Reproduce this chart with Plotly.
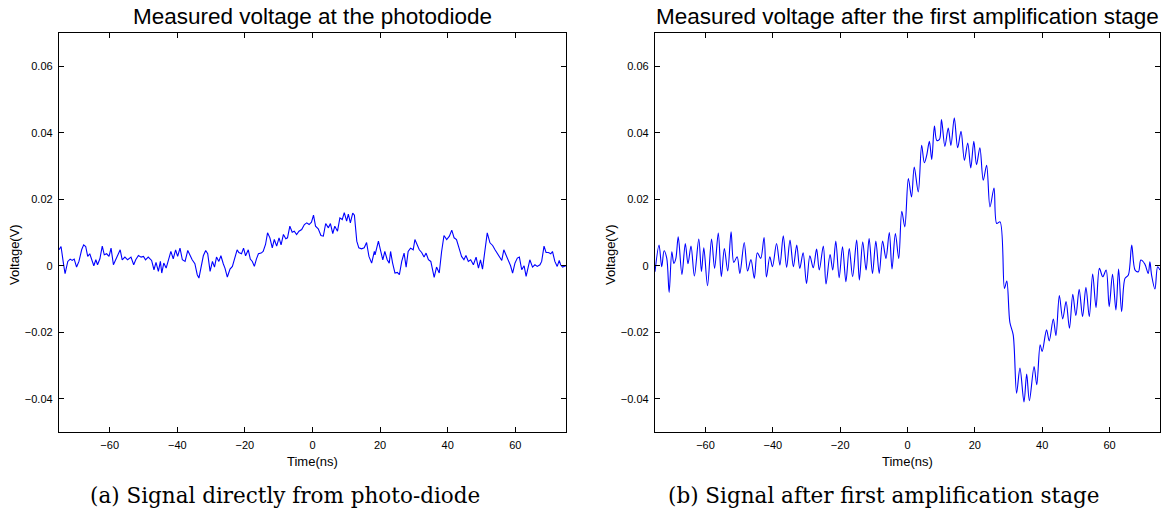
import plotly.graph_objects as go

# ---- Data: (a) signal directly from photo-diode ----
t_a = [-75.0, -74.4, -73.7, -73.2, -72.4, -71.7, -71.1, -70.5, -69.8, -69.1, -68.3, -67.7, -67.1, -66.5,
       -65.9, -65.3, -64.7, -64.1, -63.6, -62.9, -62.2, -61.6, -60.9, -60.2, -59.6, -58.9, -58.2, -57.4,
       -56.9, -56.3, -55.5, -54.7, -53.7, -52.9, -52.3, -51.5, -50.7, -50.0, -49.4, -48.6, -47.6, -46.9,
       -46.3, -45.6, -45.0, -44.6, -44.0, -43.3, -42.6, -41.9, -41.2, -40.5, -39.9, -39.2, -38.5, -37.7,
       -36.9, -36.3, -35.6, -34.8, -34.1, -33.6, -33.0, -32.3, -31.6, -31.0, -30.3, -29.6, -29.0, -28.4,
       -27.7, -27.1, -26.4, -25.9, -25.2, -24.4, -23.7, -22.9, -22.3, -21.8, -21.0, -20.4, -19.8, -19.0,
       -18.4, -17.8, -17.2, -16.6, -16.0, -15.2, -14.6, -13.9, -13.3, -12.6, -11.9, -11.3, -10.6, -9.9,
       -9.3, -8.6, -7.9, -7.4, -6.7, -6.0, -5.4, -4.7, -4.0, -3.2, -2.4, -1.7, -1.0, -0.3, 0.3, 0.9, 1.7,
       2.5, 3.2, 3.9, 4.7, 5.3, 6.0, 6.6, 7.4, 8.1, 8.8, 9.4, 10.1, 10.6, 11.2, 11.9, 12.4, 13.1, 13.7,
       14.5, 15.3, 16.0, 16.7, 17.5, 18.3, 18.5, 19.5, 20.2, 20.8, 21.4, 22.1, 22.7, 23.1, 23.7, 24.4,
       25.1, 25.7, 26.4, 27.1, 27.7, 28.3, 29.0, 29.8, 30.3, 31.0, 31.6, 32.3, 33.0, 33.6, 34.3, 35.0,
       35.5, 36.0, 36.7, 37.5, 38.2, 38.9, 39.7, 40.5, 41.2, 41.9, 42.6, 43.4, 44.1, 44.8, 45.4, 46.1,
       46.8, 47.6, 48.4, 49.1, 49.7, 50.3, 51.0, 51.7, 52.5, 53.3, 54.0, 54.7, 55.3, 56.0, 56.6, 57.2,
       57.9, 58.6, 59.2, 59.9, 60.6, 61.2, 61.9, 62.6, 63.2, 63.8, 64.3, 65.1, 65.8, 66.5, 67.3, 67.8,
       68.5, 69.1, 69.8, 70.5, 71.0, 71.7, 72.4, 73.0, 73.4, 74.0, 74.7, 75.0]
v_a = [0.0048, 0.0058, 0.0008, -0.0024, 0.0013, 0.0020, 0.0016, 0.0020, -0.0004, 0.0013, 0.0048, 0.0063,
       0.0058, 0.0028, 0.0036, 0.0018, 0.0000, 0.0018, 0.0003, 0.0021, 0.0059, 0.0033, 0.0036, 0.0028,
       0.0053, 0.0003, 0.0018, 0.0036, 0.0048, 0.0018, 0.0026, 0.0018, 0.0026, 0.0003, 0.0018, 0.0031,
       0.0026, 0.0028, 0.0018, 0.0026, 0.0016, -0.0012, 0.0010, -0.0017, 0.0013, -0.0022, 0.0008, -0.0007,
       0.0018, 0.0043, 0.0021, 0.0048, 0.0028, 0.0053, 0.0018, 0.0013, 0.0046, 0.0033, 0.0018, 0.0006,
       -0.0027, -0.0037, -0.0007, 0.0030, 0.0046, 0.0036, -0.0017, 0.0013, -0.0004, 0.0026, 0.0013, 0.0030,
       0.0006, -0.0007, -0.0034, -0.0010, -0.0002, 0.0030, 0.0048, 0.0040, 0.0036, 0.0053, 0.0030, 0.0048,
       0.0020, 0.0013, -0.0002, 0.0020, 0.0036, 0.0038, 0.0043, 0.0064, 0.0099, 0.0084, 0.0054, 0.0079,
       0.0059, 0.0084, 0.0063, 0.0094, 0.0081, 0.0084, 0.0119, 0.0101, 0.0104, 0.0094, 0.0104, 0.0109,
       0.0124, 0.0129, 0.0124, 0.0131, 0.0152, 0.0119, 0.0111, 0.0091, 0.0089, 0.0127, 0.0114, 0.0127,
       0.0097, 0.0119, 0.0104, 0.0144, 0.0139, 0.0160, 0.0134, 0.0155, 0.0129, 0.0158, 0.0152, 0.0074,
       0.0054, 0.0051, 0.0054, 0.0070, 0.0028, 0.0008, 0.0043, 0.0033, 0.0074, 0.0043, 0.0018, 0.0043,
       0.0018, 0.0008, 0.0043, 0.0008, -0.0022, -0.0020, -0.0027, 0.0013, 0.0038, -0.0004, 0.0043, 0.0053,
       0.0048, 0.0079, 0.0059, 0.0048, 0.0040, 0.0026, 0.0038, 0.0018, 0.0013, -0.0012, -0.0035, -0.0004,
       -0.0022, 0.0043, 0.0091, 0.0079, 0.0089, 0.0107, 0.0084, 0.0079, 0.0048, 0.0028, 0.0018, 0.0031,
       0.0013, 0.0018, 0.0003, 0.0026, -0.0007, 0.0018, -0.0010, 0.0043, 0.0099, 0.0069, 0.0061, 0.0048,
       0.0036, 0.0026, 0.0016, 0.0048, 0.0033, 0.0013, 0.0000, -0.0022, 0.0008, 0.0023, 0.0026, -0.0012,
       0.0000, -0.0032, -0.0007, 0.0018, -0.0004, 0.0003, -0.0002, 0.0003, 0.0013, 0.0059, 0.0040, 0.0040,
       0.0036, 0.0043, 0.0013, -0.0002, 0.0016, 0.0003, -0.0004, 0.0000, 0.0000]

# ---- Data: (b) signal after first amplification stage ----
t_b = [-75.0, -73.8, -73.0, -72.3, -71.5, -70.8, -70.0, -69.4, -68.8, -68.1, -67.0, -66.0, -65.2, -64.3,
       -63.3, -62.0, -61.2, -60.5, -59.4, -58.2, -57.3, -56.2, -55.3, -54.4, -53.4, -52.4, -51.6, -50.6,
       -49.8, -48.5, -47.5, -46.5, -45.5, -44.6, -43.6, -42.6, -41.9, -40.9, -40.1, -38.9, -37.9, -36.9,
       -35.9, -34.9, -33.9, -32.9, -32.0, -31.0, -30.0, -29.0, -28.0, -27.0, -26.2, -25.0, -24.2, -23.0,
       -22.2, -21.3, -20.3, -19.3, -18.3, -17.3, -16.3, -15.1, -14.3, -13.3, -12.3, -11.4, -10.4, -9.4,
       -8.4, -7.4, -6.4, -5.4, -4.6, -3.6, -2.6, -1.7, -0.8, 0.25, 1.2, 2.0, 3.2, 4.2, 5.0, 5.7, 6.5, 7.2,
       8.0, 8.7, 9.5, 10.1, 11.1, 12.1, 12.9, 13.9, 14.9, 15.9, 16.9, 17.9, 18.8, 19.7, 20.5, 21.5, 22.5,
       23.5, 24.5, 25.7, 26.5, 27.5, 28.8, 29.5, 30.4, 31.4, 32.4, 33.4, 34.6, 35.4, 36.2, 37.6, 38.4,
       39.4, 40.0, 41.3, 42.1, 43.3, 44.1, 45.1, 46.1, 47.1, 48.1, 49.1, 50.0, 51.0, 52.0, 53.0, 54.0,
       55.0, 56.0, 57.0, 58.0, 59.0, 59.9, 60.9, 61.9, 62.7, 63.6, 64.6, 65.6, 66.6, 67.6, 68.6, 69.3,
       70.5, 71.5, 72.0, 72.5, 73.5, 74.3, 75.0]
v_b = [-0.0018, 0.0062, -0.0003, 0.0045, 0.0022, -0.0080, 0.0042, 0.0007, 0.0022, 0.0087, -0.0026, 0.0067,
       0.0006, 0.0059, -0.0031, 0.0080, -0.0018, 0.0054, -0.0060, 0.0080, -0.0008, 0.0098, -0.0033, 0.0052,
       -0.0016, 0.0102, 0.0010, 0.0027, -0.0023, 0.0070, -0.0016, 0.0019, -0.0038, 0.0039, 0.0022, 0.0085,
       -0.0034, 0.0027, -0.0003, 0.0067, 0.0002, 0.0090, -0.0005, 0.0077, -0.0003, 0.0062, -0.0008, 0.0039,
       -0.0054, 0.0030, -0.0006, 0.0050, -0.0013, 0.0059, -0.0055, 0.0034, -0.0013, 0.0074, -0.0036, 0.0057,
       -0.0048, 0.0052, -0.0033, 0.0077, -0.0043, 0.0072, -0.0013, 0.0082, -0.0023, 0.0074, -0.0023, 0.0074,
       0.0022, 0.0100, -0.0010, 0.0097, 0.0022, 0.0164, 0.0117, 0.0262, 0.0207, 0.0297, 0.0222, 0.0362,
       0.0310, 0.0332, 0.0374, 0.0320, 0.0420, 0.0377, 0.0380, 0.0440, 0.0359, 0.0414, 0.0362, 0.0445,
       0.0355, 0.0404, 0.0317, 0.0369, 0.0294, 0.0374, 0.0304, 0.0355, 0.0257, 0.0302, 0.0177, 0.0234,
       0.0127, 0.0132, -0.0068, -0.0046, -0.0170, -0.0208, -0.0383, -0.0308, -0.0410, -0.0326, -0.0406,
       -0.0303, -0.0358, -0.0238, -0.0258, -0.0193, -0.0226, -0.0160, -0.0210, -0.0090, -0.0160, -0.0108,
       -0.0188, -0.0086, -0.0150, -0.0071, -0.0153, -0.0065, -0.0153, -0.0025, -0.0126, -0.0008, -0.0033,
       -0.0013, -0.0123, -0.0026, -0.0133, -0.0010, -0.0138, -0.0038, -0.0028, 0.0062, -0.0013, -0.0018,
       0.0017, 0.0005, -0.0023, 0.0012, -0.0028, -0.0070, -0.0003, -0.0013]

x_ticks = [-60, -40, -20, 0, 20, 40, 60]
y_ticks = [-0.04, -0.02, 0, 0.02, 0.04, 0.06]
titles = ["Measured voltage at the photodiode", "Measured voltage after the first amplification stage"]
captions = ["(a) Signal directly from photo-diode", "(b) Signal after first amplification stage"]
x_label = "Time(ns)"
y_label = "Voltage(V)"

W, H = 1166, 513
dom_a = [59 / W, 566 / W]
dom_b = [655 / W, 1160 / W]
dom_y = [(H - 432) / H, (H - 33) / H]

fig = go.Figure()
fig.add_trace(go.Scatter(x=t_a, y=v_a, mode="lines", line=dict(color="#0000ff", width=1.1),
                         xaxis="x", yaxis="y", showlegend=False, hoverinfo="skip"))
fig.add_trace(go.Scatter(x=t_b, y=v_b, mode="lines", line=dict(color="#0000ff", width=1.1, shape="spline", smoothing=0.9),
                         xaxis="x2", yaxis="y2", showlegend=False, hoverinfo="skip"))

axis_font = dict(family="Liberation Sans, Arial, sans-serif", size=11, color="#000000")
common_x = dict(range=[-75, 75], tickvals=x_ticks, ticks="inside", ticklen=5, tickwidth=1,
                tickcolor="#000000", showline=True, linecolor="#000000", linewidth=1.3, mirror="ticks",
                showgrid=False, zeroline=False, tickfont=axis_font, ticklabelstandoff=3)
common_y = dict(range=[-0.05, 0.07], tickvals=y_ticks, ticks="inside", ticklen=5, tickwidth=1,
                tickcolor="#000000", showline=True, linecolor="#000000", linewidth=1.3, mirror="ticks",
                showgrid=False, zeroline=False, tickfont=axis_font, ticklabelstandoff=3)

fig.update_layout(
    width=W, height=H, margin=dict(l=0, r=0, t=0, b=0),
    paper_bgcolor="white", plot_bgcolor="white",
    xaxis=dict(domain=dom_a, anchor="y", **common_x),
    yaxis=dict(domain=dom_y, anchor="x", **common_y),
    xaxis2=dict(domain=dom_b, anchor="y2", **common_x),
    yaxis2=dict(domain=dom_y, anchor="x2", **common_y),
)

title_font = dict(family="Liberation Sans, Arial, sans-serif", size=22.5, color="#000000")
label_font = dict(family="Liberation Sans, Arial, sans-serif", size=13, color="#000000")
cap_font = dict(family="DejaVu Serif, serif", size=21.5, color="#000000")
centers = [(dom_a[0] + dom_a[1]) / 2, (dom_b[0] + dom_b[1]) / 2]
cap_centers = [284.5 / W, 883.5 / W]
lefts = [dom_a[0], dom_b[0]]
for i in range(2):
    fig.add_annotation(text=titles[i], x=centers[i], y=1 - 16 / H, xref="paper", yref="paper",
                       xanchor="center", yanchor="middle", showarrow=False, font=title_font)
    fig.add_annotation(text=x_label, x=centers[i], y=1 - 461 / H, xref="paper", yref="paper",
                       xanchor="center", yanchor="middle", showarrow=False, font=label_font)
    fig.add_annotation(text=y_label, x=lefts[i] - 44 / W, y=1 - 255 / H, xref="paper", yref="paper",
                       xanchor="center", yanchor="middle", showarrow=False, font=label_font, textangle=-90)
    fig.add_annotation(text=captions[i], x=cap_centers[i], y=1 - 495 / H, xref="paper", yref="paper",
                       xanchor="center", yanchor="middle", showarrow=False, font=cap_font)

fig.write_html("out.html")
